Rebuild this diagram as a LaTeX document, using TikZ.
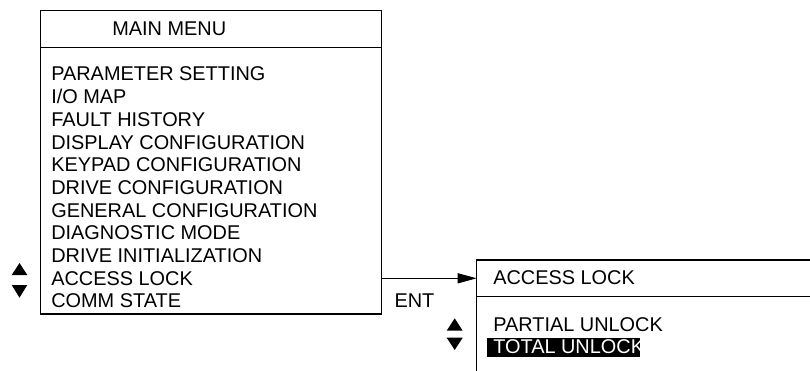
\documentclass[tikz,border=0pt]{standalone}
\usepackage{fontspec}
\setmainfont{Liberation Sans}
\usetikzlibrary{arrows.meta}

\begin{document}
\begin{tikzpicture}[x=1pt,y=-1pt,line width=1.2pt,
  menutext/.style={anchor=base west,inner sep=0pt,font=\fontsize{19.9}{22.7}\selectfont}]
\useasboundingbox (0,0) rectangle (810,371);
% main menu
\draw (40.7,10.5) rectangle (381.5,314);
\draw (40.7,47.5) -- (381.5,47.5);
\node [menutext] (maintitle) at (111.7,36) {MAIN MENU};
\foreach \item [count=\i from 0] in {PARAMETER SETTING,I/O MAP,FAULT HISTORY,DISPLAY CONFIGURATION,KEYPAD CONFIGURATION,DRIVE CONFIGURATION,GENERAL CONFIGURATION,DIAGNOSTIC MODE,DRIVE INITIALIZATION,ACCESS LOCK,COMM STATE}
  \node [menutext] (item\i) at (50.7,{81+22.67*\i}) {\item};
\fill (11.7,275) -- (27.3,275) -- (19.5,263) -- cycle;
\fill (11.7,285) -- (27.3,285) -- (19.5,297.7) -- cycle;
% access lock menu
\draw (812,260) -- (476.7,260) -- (476.7,373);
\draw (476.7,296.7) -- (812,296.7);
\node [menutext] (locktitle) at (492.7,284.3) {ACCESS LOCK};
\node [menutext] (partial) at (492.7,331) {PARTIAL UNLOCK};
\fill (486.7,337.7) rectangle (640,357.3);
\node [menutext,text=white] (total) at (492.7,353.3) {TOTAL UNLOCK};
\fill (446.7,330.7) -- (462.7,330.7) -- (454.7,318.3) -- cycle;
\fill (446.7,337.7) -- (462.7,337.7) -- (454.7,350) -- cycle;
% enter
\coordinate (mainout) at (381.5,278.3);
\coordinate (lockin) at (476.7,278.3);
\draw [-{Triangle[length=19pt,width=10pt]}] (mainout) -- (lockin);
\node [menutext] (ent) at (394,307) {ENT};
\end{tikzpicture}
\end{document}
